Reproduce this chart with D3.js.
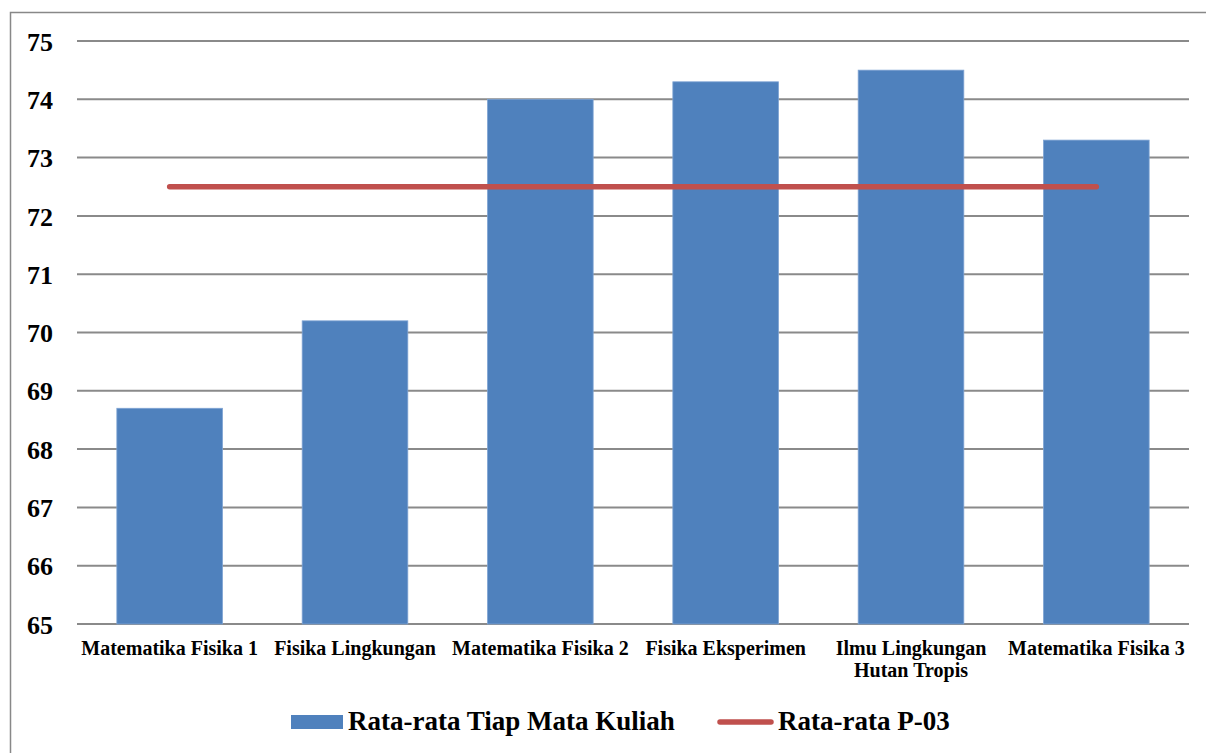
<!DOCTYPE html>
<html><head><meta charset="utf-8">
<script src="https://cdn.jsdelivr.net/npm/d3@7"></script>
<style>body{margin:0;background:#fff}svg{display:block}
text{font-family:"Liberation Serif","Times New Roman",Times,serif;font-weight:bold;fill:#000}</style>
</head><body><svg id="c" width="1206" height="753"></svg>
<script>
const categories = [["Matematika Fisika 1"],["Fisika Lingkungan"],["Matematika Fisika 2"],["Fisika Eksperimen"],["Ilmu Lingkungan","Hutan Tropis"],["Matematika Fisika 3"]];
const barValues = [68.7, 70.2, 74.0, 74.3, 74.5, 73.3];
const lineValues = [72.5, 72.5, 72.5, 72.5, 72.5, 72.5];
const yTicks = [65,66,67,68,69,70,71,72,73,74,75];
const seriesNames = ["Rata-rata Tiap Mata Kuliah","Rata-rata P-03"];

(function(){
const svg = d3.select("#c");
const pl = 77, pr = 1189, pt = 41, pb = 624;
const keys = categories.map((c,i)=>i);
const x = d3.scaleBand().domain(keys).range([pl,pr]).paddingInner(0.43).paddingOuter(0.215);
const y = d3.scaleLinear().domain([65,75]).range([pb,pt]);

svg.append("rect").attr("x",10.5).attr("y",12.5).attr("width",1220).attr("height",800)
  .attr("fill","none").attr("stroke","#888").attr("stroke-width",1.5);

svg.append("g").selectAll("line").data(yTicks).join("line")
  .attr("x1",pl).attr("x2",pr).attr("y1",d=>y(d)).attr("y2",d=>y(d))
  .attr("stroke","#8a8a8a").attr("stroke-width",2);

const yAxis = d3.axisLeft(y).tickValues(yTicks).tickSize(0).tickPadding(0);
const ga = svg.append("g").attr("transform","translate(53,0)").call(yAxis);
ga.attr("font-family",null).attr("font-size",null);
ga.select(".domain").remove();
ga.selectAll("text").style("font-size","26px").attr("fill","#000").attr("dy","0.35em");

svg.append("g").selectAll("rect").data(barValues).join("rect")
  .attr("x",(d,i)=>x(i)).attr("width",x.bandwidth())
  .attr("y",d=>y(d)).attr("height",d=>y(65)-y(d))
  .attr("fill","#4f81bd").attr("stroke","#7ea3d3").attr("stroke-width",0.8);

const line = d3.line().x((d,i)=>x(i)+x.bandwidth()/2).y(d=>y(d));
svg.append("path").datum(lineValues).attr("d",line).attr("fill","none")
  .attr("stroke","#c0504d").attr("stroke-width",5.5).attr("stroke-linecap","round");

const cg = svg.append("g");
categories.forEach((lines,i)=>{
  const t = cg.append("text").attr("x",x(i)+x.bandwidth()/2).attr("y",655)
    .attr("text-anchor","middle").style("font-size","20px");
  lines.forEach((l,j)=>t.append("tspan").attr("x",x(i)+x.bandwidth()/2).attr("dy",j?22:0).text(l));
});

const lg = svg.append("g");
lg.append("rect").attr("x",291).attr("y",715).attr("width",52).attr("height",14).attr("fill","#4f81bd");
lg.append("text").attr("x",348).attr("y",730).style("font-size","27px").text(seriesNames[0]);
lg.append("line").attr("x1",720).attr("x2",771).attr("y1",722).attr("y2",722).attr("stroke","#c0504d").attr("stroke-width",5.5).attr("stroke-linecap","round");
lg.append("text").attr("x",778).attr("y",730).style("font-size","27px").text(seriesNames[1]);
})();
</script></body></html>
